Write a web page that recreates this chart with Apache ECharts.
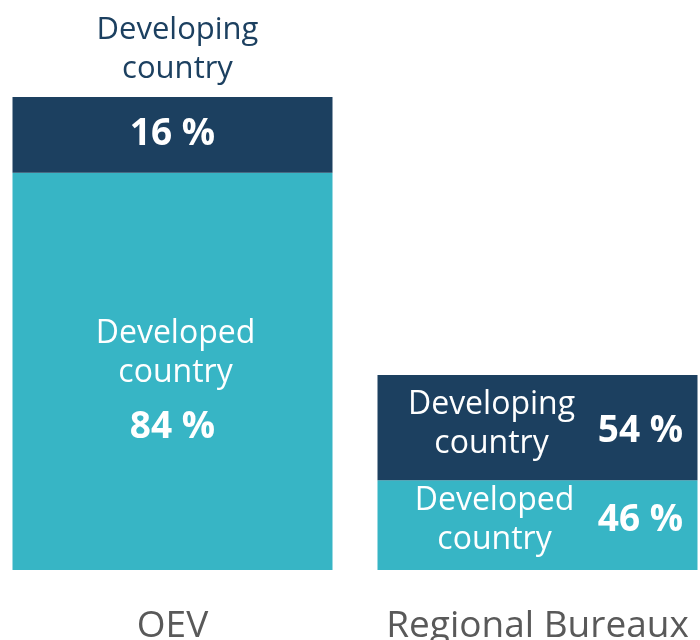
<!DOCTYPE html>
<html lang="en">
<head>
    <meta charset="UTF-8">
    <title>Developing vs developed country</title>
    <script src="https://cdn.jsdelivr.net/npm/echarts@6/dist/echarts.min.js"></script>
    <style>
        html, body {
            margin: 0;
            height: 100%;
            background: #fff;
        }
    </style>
</head>
<body>
<div id="main" style="width: 700px;height: 640px"></div>
</body>
</html>
<script>
    // categories
    var categories = ['OEV', 'Regional Bureaux'];
    // bar heights (OEV total = 100)
    var developedHeight = [84, 19.0];
    var developingHeight = [16, 22.2];
    // percentage labels
    var developedPct = [84, 46];
    var developingPct = [16, 54];

    var navy = '#1c4060';
    var teal = '#37b5c5';
    var font = 'Open Sans';

    // midpoints of the segments, for the percentage labels
    var developedMid = developedHeight.map(function (v) { return v / 2; });
    var developingMid = developingHeight.map(function (v, i) { return developedHeight[i] + v / 2; });

    var nameStyle = {
        color: '#fff',
        fontFamily: font,
        fontSize: 32,
        lineHeight: 39
    };

    var pctLabel = function (pcts) {
        return {
            show: true,
            position: 'inside',
            color: '#fff',
            textBorderWidth: 0,
            fontFamily: font,
            fontWeight: 'bold',
            fontSize: 37,
            formatter: function (p) { return pcts[p.dataIndex] + ' %'; }
        };
    };

    var myChart = echarts.init(document.getElementById('main'));
    var option = {
        animation: false,
        grid: {left: -10, right: -20, top: 97, bottom: 70, outerBoundsMode: 'none'},
        xAxis: {
            type: 'category',
            data: categories,
            axisLine: {show: false},
            axisTick: {show: false},
            axisLabel: {
                interval: 0,
                hideOverlap: false,
                color: '#595959',
                fontFamily: font,
                fontSize: 37,
                margin: 38
            }
        },
        yAxis: {type: 'value', min: 0, max: 100, show: false},
        series: [
            {
                name: 'Developed country',
                type: 'bar',
                stack: 'total',
                barWidth: 320,
                itemStyle: {color: teal},
                label: Object.assign({show: true, position: 'inside', formatter: 'Developed\ncountry'}, nameStyle),
                data: [
                    {value: developedHeight[0], label: {offset: [3, -18]}},
                    {value: developedHeight[1], label: {offset: [-43, -5]}}
                ]
            },
            {
                name: 'Developing country',
                type: 'bar',
                stack: 'total',
                barWidth: 320,
                itemStyle: {color: navy},
                label: Object.assign({show: true, position: 'inside', formatter: 'Developing\ncountry'}, nameStyle),
                data: [
                    {
                        value: developingHeight[0],
                        label: {position: 'top', distance: 8, offset: [5, 0], fontSize: 31, color: navy}
                    },
                    {value: developingHeight[1], label: {offset: [-46, -3]}}
                ]
            },
            {
                type: 'scatter',
                symbolSize: 0,
                silent: true,
                itemStyle: {opacity: 1},
                label: pctLabel(developedPct),
                data: [
                    {value: developedMid[0], label: {offset: [0, 56]}},
                    {value: developedMid[1], label: {offset: [103, -5]}}
                ]
            },
            {
                type: 'scatter',
                symbolSize: 0,
                silent: true,
                itemStyle: {opacity: 1},
                label: pctLabel(developingPct),
                data: [
                    {value: developingMid[0], label: {offset: [0, 0]}},
                    {value: developingMid[1], label: {offset: [103, 4]}}
                ]
            }
        ]
    };
    myChart.setOption(option);
</script>
